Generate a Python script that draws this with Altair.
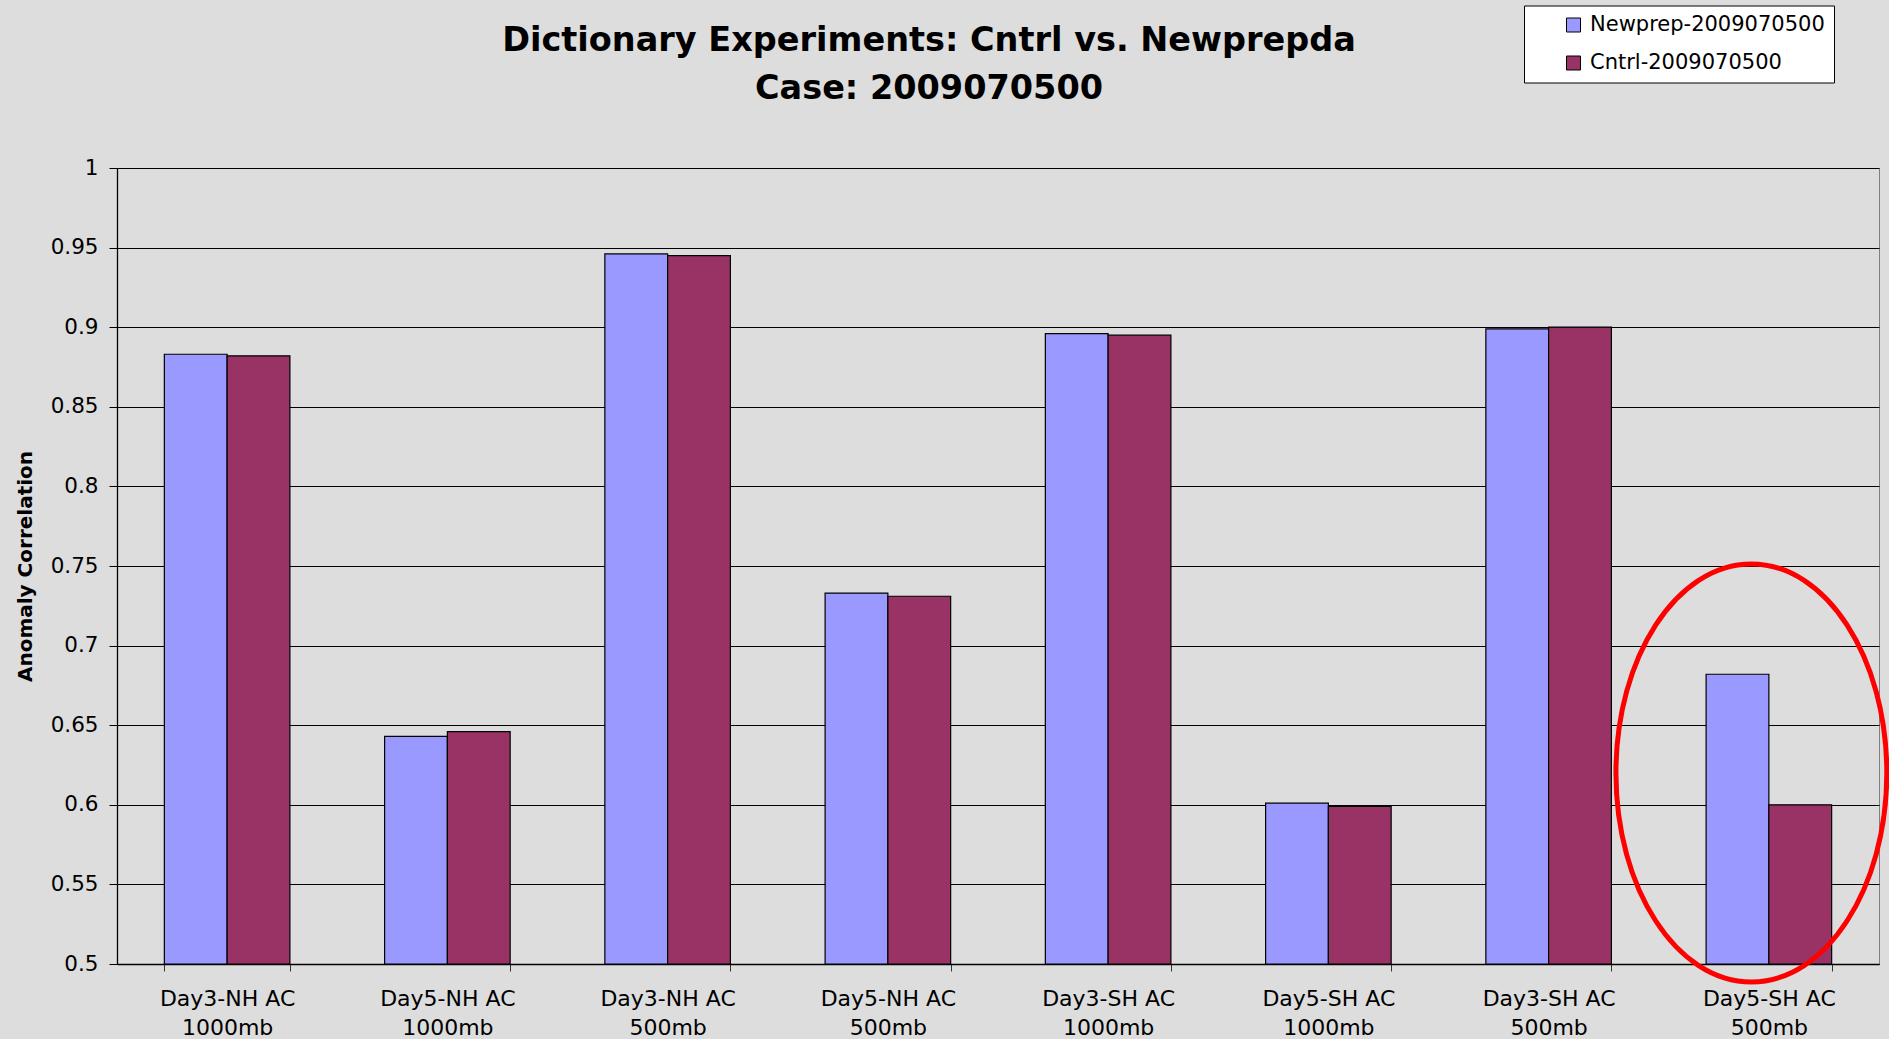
import altair as alt
import pandas as pd

# Forecast verification cases (test + pressure level) in plotting order
tests = ["Day3-NH AC", "Day5-NH AC", "Day3-NH AC", "Day5-NH AC",
         "Day3-SH AC", "Day5-SH AC", "Day3-SH AC", "Day5-SH AC"]
levels = ["1000mb", "1000mb", "500mb", "500mb",
          "1000mb", "1000mb", "500mb", "500mb"]

# Anomaly correlation for each experiment
newprep = [0.883, 0.643, 0.946, 0.733, 0.896, 0.601, 0.899, 0.682]
cntrl = [0.882, 0.646, 0.945, 0.731, 0.895, 0.599, 0.900, 0.600]

series = ["Newprep-2009070500", "Cntrl-2009070500"]
series_colors = ["#9999FF", "#993366"]

y_ticks = [0.5, 0.55, 0.6, 0.65, 0.7, 0.75, 0.8, 0.85, 0.9, 0.95, 1.0]

# Highlighted case and the correlation level the marker is centred on
highlight_case = 7
highlight_level = 0.62

categories = [f"{t}|{l}" for t, l in zip(tests, levels)]
rows = []
for cat, a, b in zip(categories, newprep, cntrl):
    rows.append({"case": cat, "series": series[0], "ac": a})
    rows.append({"case": cat, "series": series[1], "ac": b})
df = pd.DataFrame(rows)

marker_df = pd.DataFrame({"case": [categories[highlight_case]], "ac": [highlight_level]})

FONT = "DejaVu Sans"

x_enc = alt.X(
    "case:N",
    sort=categories,
    title=None,
    scale=alt.Scale(paddingInner=0.43, paddingOuter=0.215),
    axis=alt.Axis(
        labelExpr="split(datum.label, '|')",
        labelAngle=0,
        tickBand="extent",
        grid=False,
        domainColor="black",
        domainWidth=1.3,
        tickColor="#333333",
        tickSize=7,
        labelFont=FONT,
        labelFontSize=22,
        labelColor="black",
        labelPadding=17,
        labelLineHeight=29.5,
    ),
)

y_scale = alt.Scale(domain=[0.5, 1.0], zero=False, nice=False)

bars = alt.Chart(df).mark_bar(stroke="black", strokeWidth=1.2).encode(
    x=x_enc,
    xOffset=alt.XOffset("series:N", sort=series,
                        scale=alt.Scale(paddingInner=0, paddingOuter=0)),
    y=alt.Y(
        "ac:Q",
        scale=y_scale,
        axis=alt.Axis(
            values=y_ticks,
            format=".2~f",
            title="Anomaly Correlation",
            titleFont=FONT,
            titleFontSize=20,
            titleFontWeight="bold",
            titleColor="black",
            titleAngle=270,
            titleAlign="center",
            titleBaseline="alphabetic",
            titleX=-86,
            titleY=398,
            grid=True,
            gridColor="black",
            gridWidth=1,
            domainColor="black",
            domainWidth=1.3,
            tickColor="black",
            tickSize=8,
            labelFont=FONT,
            labelFontSize=21.5,
            labelColor="black",
            labelPadding=11,
        ),
    ),
    y2=alt.datum(0.5),
    color=alt.Color(
        "series:N",
        sort=series,
        scale=alt.Scale(domain=series, range=series_colors),
        legend=alt.Legend(
            title=None,
            orient="none",
            legendX=1407,
            legendY=-162.5,
            fillColor="white",
            strokeColor="black",
            padding=9,
            symbolType="square",
            symbolSize=196,
            symbolOffset=30,
            symbolStrokeColor="black",
            symbolStrokeWidth=1,
            labelFont=FONT,
            labelFontSize=21,
            labelColor="black",
            labelOffset=6,
            labelLimit=500,
            rowPadding=16,
        ),
    ),
)

# Elliptical outline drawn around the highlighted case
ELLIPSE = "M -0.648 0 A 0.648 1 0 1 0 0.648 0 A 0.648 1 0 1 0 -0.648 0 Z"
marker = alt.Chart(marker_df).mark_point(
    shape=ELLIPSE, size=174724, filled=False, color="red",
    strokeWidth=5, opacity=1, xOffset=-17.5,
).encode(
    x=alt.X("case:N", sort=categories),
    y=alt.Y("ac:Q", scale=y_scale),
)

chart = alt.layer(bars, marker).properties(
    width=1762,
    height=796,
    autosize=alt.AutoSizeParams(type="none"),
    padding={"left": 117, "top": 168, "right": 10, "bottom": 75},
    background="#DDDDDD",
    title=alt.TitleParams(
        text=["Dictionary Experiments: Cntrl vs. Newprepda", "Case: 2009070500"],
        font=FONT,
        fontSize=33.5,
        fontWeight="bold",
        color="black",
        anchor="middle",
        frame="group",
        dx=-69,
        offset=-127,
        baseline="alphabetic",
        lineHeight=48,
    ),
).configure_view(
    fill="#DDDDDD",
    stroke="#808080",
    strokeWidth=1,
)

chart.save("out.html", embed_options={"renderer": "svg", "actions": False})
